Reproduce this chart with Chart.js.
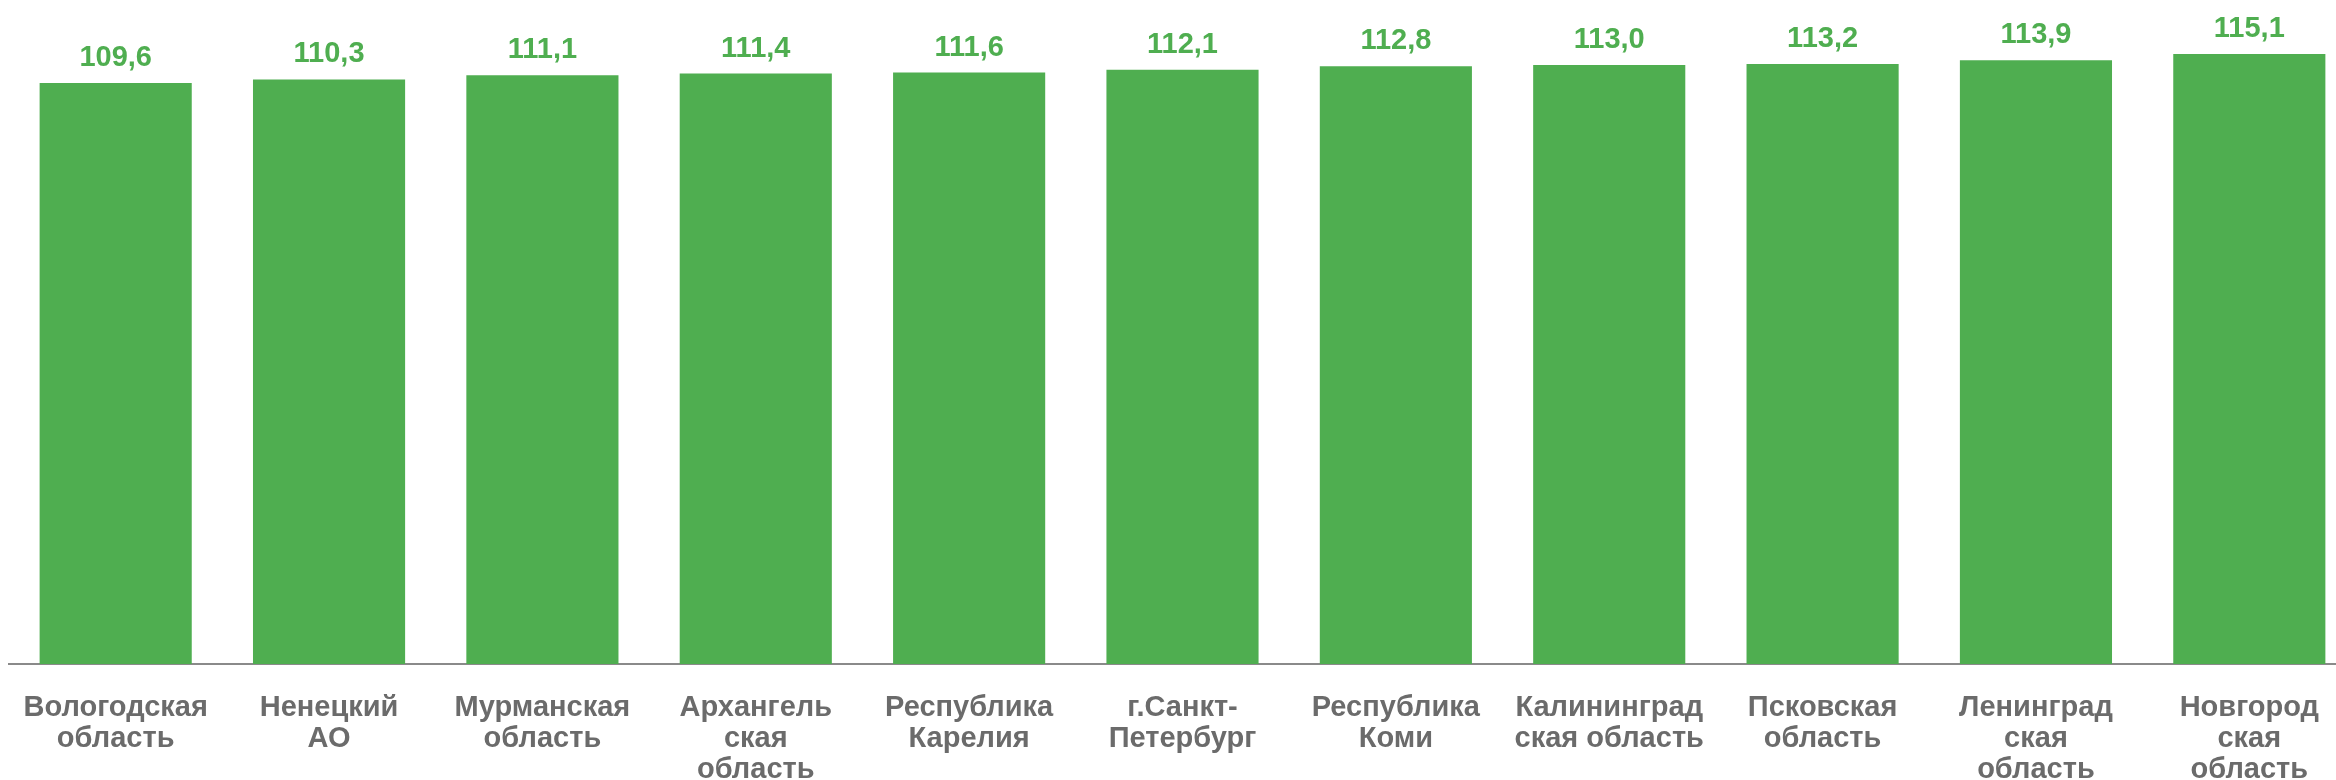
<!DOCTYPE html>
<html>
<head>
<meta charset="utf-8">
<script src="https://cdn.jsdelivr.net/npm/chart.js@4/dist/chart.umd.min.js"></script>
<style>
  html, body { margin:0; padding:0; background:#fff; overflow:hidden; }
  #wrap { position:relative; width:2356px; height:780px; }
</style>
</head>
<body>
<div id="wrap"><canvas id="chart"></canvas></div>
<script>
// ---- data ----
const REGIONS = [
  ['Вологодская','область'],
  ['Ненецкий','АО'],
  ['Мурманская','область'],
  ['Архангель','ская','область'],
  ['Республика','Карелия'],
  ['г.Санкт-','Петербург'],
  ['Республика','Коми'],
  ['Калининград','ская область'],
  ['Псковская','область'],
  ['Ленинград','ская','область'],
  ['Новгород','ская','область']
];
const VALUES = [109.6, 110.3, 111.1, 111.4, 111.6, 112.1, 112.8, 113.0, 113.2, 113.9, 115.1];
const Y_MIN = 0;
const Y_MAX = 120;

const BAR_COLOR = '#4FAE50';
const VALUE_COLOR = '#4FAE50';
const LABEL_COLOR = '#6b6b6b';
const FONT = '"Liberation Sans", Arial, sans-serif';

const fmt = v => v.toFixed(1).replace('.', ',');

// value labels above the bars
const valueLabels = {
  id: 'valueLabels',
  afterDatasetsDraw(chart) {
    const ctx = chart.ctx;
    const meta = chart.getDatasetMeta(0);
    ctx.save();
    ctx.font = 'bold 29px ' + FONT;
    ctx.fillStyle = VALUE_COLOR;
    ctx.textAlign = 'center';
    ctx.textBaseline = 'alphabetic';
    meta.data.forEach((bar, i) => {
      ctx.fillText(fmt(VALUES[i]), bar.x, bar.y - 17);
    });
    ctx.restore();
  }
};

new Chart(document.getElementById('chart'), {
  type: 'bar',
  data: { labels: REGIONS, datasets: [{
    data: VALUES, backgroundColor: BAR_COLOR, borderWidth: 0,
    barPercentage: 0.713, categoryPercentage: 1
  }]},
  options: {
    responsive: true, maintainAspectRatio: false, animation: false,
    layout: { padding: { top: 28, left: 9, right: 0, bottom: 0 } },
    plugins: { legend: { display: false }, tooltip: { enabled: false } },
    scales: {
      x: {
        grid: { display: false, drawTicks: false },
        border: { display: true, color: '#8a8a8a', width: 2 },
        ticks: { color: LABEL_COLOR, font: { family: FONT, size: 29, weight: 'bold', lineHeight: 1.07 }, padding: 28, maxRotation: 0, autoSkip: false },
        afterFit: s => { s.height = 116; s.paddingLeft = 0; s.paddingRight = 0; }
      },
      y: { display: false, min: Y_MIN, max: Y_MAX }
    }
  },
  plugins: [valueLabels]
});
</script>
</body>
</html>
